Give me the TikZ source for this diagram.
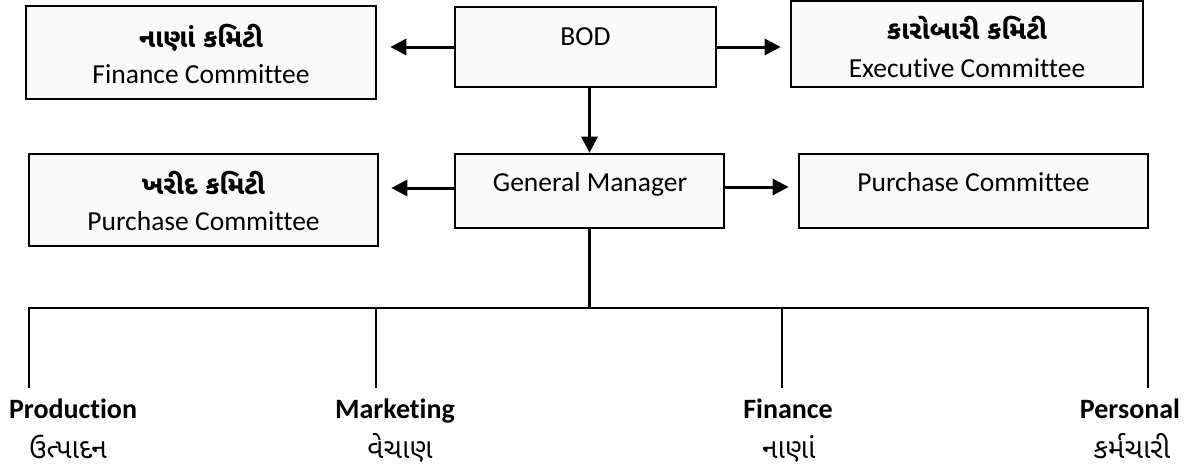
\documentclass[tikz,border=0pt]{standalone}
\usepackage{fontspec}
\setmainfont{Carlito}[Ligatures=NoCommon]
\newfontfamily\guj[Script=Gujarati]{Noto Sans Gujarati UI}
\usetikzlibrary{arrows.meta}
\begin{document}
\begin{tikzpicture}[x=1pt,y=-1pt,
 box/.style={draw=black, line width=2.6pt, fill=gray!4, inner sep=0pt},
 txt/.style={anchor=base, inner sep=0pt, font=\fontsize{27.5}{30}\selectfont},
 btxt/.style={anchor=base, inner sep=0pt, font=\bfseries\fontsize{28}{30}\selectfont},
 gtxt/.style={anchor=base, inner sep=0pt, font=\guj\bfseries\fontsize{26}{28}\selectfont},
 gbtxt/.style={anchor=base, inner sep=0pt, font=\guj\fontsize{28}{30}\selectfont},
 arr/.style={line width=3pt, -{Triangle[length=16pt,width=16pt]}},
 ln/.style={line width=2.6pt}]
\useasboundingbox (0,0) rectangle (1189,469);
% boxes
\node[box, minimum width=350pt, minimum height=93pt] (fin) at (201,52.5) {};
\node[box, minimum width=261pt, minimum height=80pt] (bod) at (585.5,47) {};
\node[box, minimum width=352pt, minimum height=86pt] (exec) at (967,44) {};
\node[box, minimum width=349pt, minimum height=92pt] (purG) at (203.5,200) {};
\node[box, minimum width=269pt, minimum height=74pt] (gm) at (589.5,191) {};
\node[box, minimum width=349pt, minimum height=74pt] (pur) at (973.5,191) {};
% box texts
\node[gtxt] (finG) at (201,47) {નાણાં કમિટી};
\node[txt] (finE) at (201,83) {Finance Committee};
\node[txt] (bodT) at (585.5,45) {BOD};
\node[gtxt] (execG) at (967,39) {કારોબારી કમિટી};
\node[txt] (execE) at (967,77) {Executive Committee};
\node[gtxt] (purGG) at (203.5,194) {ખરીદ કમિટી};
\node[txt] (purGE) at (203.5,230) {Purchase Committee};
\node[txt] (gmT) at (590,191) {General Manager};
\node[txt] (purT) at (973.5,191) {Purchase Committee};
% arrows
\draw[arr, shorten >=13pt] (bod.west) -- (fin.east |- bod.west);
\draw[arr, shorten >=9pt] (bod.east) -- (exec.west |- bod.east);
\draw[arr] (bod.south -| gm.north) -- (gm.north);
\draw[arr, shorten >=12pt] ([yshift=3pt]gm.west) -- ([yshift=3pt]gm.west -| purG.east);
\draw[arr, shorten >=9pt] ([yshift=4pt]gm.east) -- ([yshift=4pt]gm.east -| pur.west);
% tree
\coordinate (hub) at (588,308);
\coordinate (prodTop) at (29,308);
\coordinate (markTop) at (376,308);
\coordinate (finTop) at (782,308);
\coordinate (persTop) at (1148,308);
\coordinate (prodEnd) at (29,388);
\coordinate (markEnd) at (376,388);
\coordinate (finEnd) at (782,388);
\coordinate (persEnd) at (1148,388);
\draw[ln] (gm.south) -- (gm.south |- hub);
\draw[ln] ([xshift=-1.3pt]prodTop) -- ([xshift=1.3pt]persTop);
\draw[ln] (prodTop) -- (prodEnd);
\draw[ln] (markTop) -- (markEnd);
\draw[ln] (finTop) -- (finEnd);
\draw[ln] (persTop) -- (persEnd);
% bottom labels
\node[btxt] (prodE) at (73,418) {Production};
\node[gbtxt] (prodG) at (68,458) {ઉત્પાદન};
\node[btxt] (markE) at (395,418) {Marketing};
\node[gbtxt] (markG) at (400,458) {વેચાણ};
\node[btxt] (finBE) at (788,418) {Finance};
\node[gbtxt] (finBG) at (789,458) {નાણાં};
\node[btxt] (persE) at (1130,418) {Personal};
\node[gbtxt] (persG) at (1132,458) {કર્મચારી};
\end{tikzpicture}
\end{document}
